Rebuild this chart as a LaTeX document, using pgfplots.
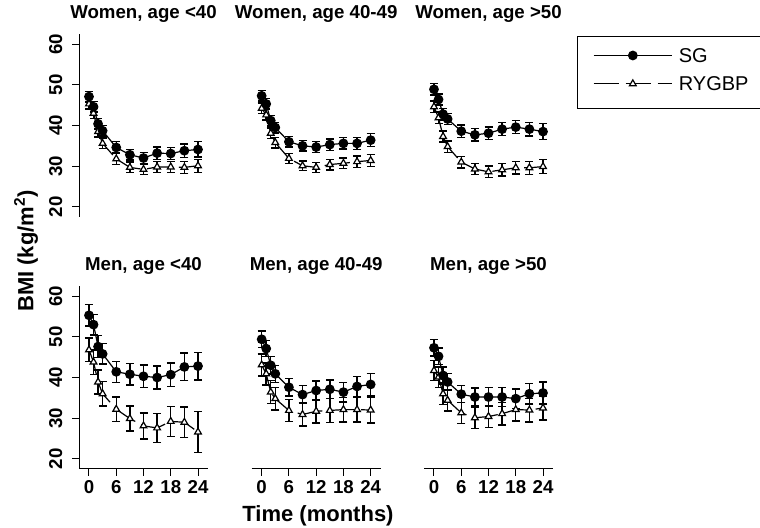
\documentclass[border=0pt]{standalone}
\usepackage{fontspec}
\setmainfont{Liberation Sans}
\usepackage{pgfplots}
\usepackage{pgfplotstable}
\pgfplotsset{compat=1.18}

\newcommand\titlefont{\bfseries\fontsize{14}{16}\selectfont}
\newcommand\tickfont{\bfseries\fontsize{14}{16}\selectfont}
\newcommand\labfont{\bfseries\fontsize{16.5}{19}\selectfont}
\newcommand\legfont{\fontsize{15}{17}\selectfont}

% t = months, sg/ry = mean BMI, sge/rye = error bar half width
\pgfplotstableread{
t  sg   sge  ry   rye
0  47.1 1.3  45.3 1.3
1  44.6 1.3  43.0 1.3
2  40.4 1.3  38.5 1.3
3  38.7 1.3  35.6 1.3
6  34.6 1.4  31.8 1.4
9  32.8 1.3  29.7 1.3
12 32.0 1.4  29.2 1.3
15 33.2 1.5  29.8 1.4
18 33.1 1.5  29.8 1.4
21 33.8 1.7  29.7 1.5
24 34.1 1.9  30.1 1.6
}\womenA
\pgfplotstableread{
t  sg   sge  ry   rye
0  47.3 1.3  44.2 1.3
1  45.3 1.3  42.6 1.3
2  41.2 1.3  38.1 1.3
3  39.5 1.3  35.8 1.3
6  36.0 1.3  31.9 1.2
9  35.0 1.3  30.1 1.2
12 34.7 1.3  29.7 1.2
15 35.3 1.4  30.4 1.3
18 35.6 1.4  30.7 1.3
21 35.6 1.5  31.1 1.4
24 36.4 1.6  31.4 1.5
}\womenB
\pgfplotstableread{
t  sg   sge  ry   rye
0  48.9 1.4  44.6 1.4
1  46.4 1.4  41.9 1.4
2  42.8 1.4  37.3 1.4
3  41.6 1.4  34.8 1.4
6  38.6 1.5  31.0 1.4
9  37.7 1.5  29.3 1.4
12 38.1 1.5  28.6 1.4
15 39.1 1.6  29.1 1.5
18 39.6 1.6  29.6 1.5
21 39.1 1.7  29.6 1.6
24 38.5 2.0  29.9 1.7
}\womenC
\pgfplotstableread{
t  sg   sge  ry   rye
0  55.3 2.6  46.8 2.9
1  53.0 2.5  43.8 3.0
2  47.6 2.7  38.9 3.0
3  45.8 2.5  36.0 3.0
6  41.4 2.6  32.2 3.0
9  40.8 2.7  29.9 3.1
12 40.3 2.8  28.1 3.2
15 40.0 2.8  27.6 3.6
18 40.7 2.9  29.2 3.7
21 42.6 3.4  29.0 3.8
24 42.8 3.4  26.6 5.0
}\menA
\pgfplotstableread{
t  sg   sge  ry   rye
0  49.4 2.0  43.1 2.7
1  47.1 2.0  40.9 2.7
2  43.0 2.1  36.4 2.8
3  40.9 2.1  34.8 2.8
6  37.6 2.1  31.9 2.7
9  35.8 2.2  30.9 2.8
12 36.8 2.3  31.7 2.9
15 37.1 2.3  31.9 3.0
18 36.4 2.4  32.1 3.0
21 37.8 2.5  32.1 3.1
24 38.3 2.7  32.0 3.2
}\menB
\pgfplotstableread{
t  sg   sge  ry   rye
0  47.3 2.0  41.7 2.5
1  45.2 2.0  40.1 2.5
2  40.5 2.1  36.0 2.6
3  38.9 2.1  34.4 2.6
6  35.9 2.1  31.3 2.6
9  35.2 2.2  30.1 2.7
12 35.2 2.3  30.4 2.7
15 35.2 2.3  31.1 2.8
18 34.8 2.4  32.1 2.8
21 36.0 2.5  32.0 2.9
24 36.2 2.7  32.5 2.9
}\menC

\pgfplotsset{
  panel/.style={
    scale only axis, width=96.75pt, height=137.25pt,
    xmin=-2.2, xmax=26.2, ymin=17.5, ymax=62.5,
    xtick={0,6,12,18,24}, ytick={20,30,40,50,60},
    tick align=outside, major tick length=5pt,
    axis line style={-, line width=0.75pt},
    x axis line style={-}, y axis line style={-},
    tick style={line width=0.75pt, black},
    ticklabel style={font=\tickfont},
    yticklabel style={rotate=90, anchor=south},
    yticklabel shift=4pt,
    /pgf/number format/assume math mode=true,
    clip=false,
    title style={font=\titlefont, at={(0.5,1)}, anchor=base, yshift=5.8pt},
  },
  legimg/.style={
    legend image code/.code={
      \path[draw=none, fill=none] (0pt,-7.15pt) rectangle (76pt,14.05pt);
      \draw[mark repeat=2, mark phase=2] plot coordinates {(12pt,5.35pt) (41.5pt,5.35pt) (71pt,5.35pt)};
    },
  },
  sg/.style={
    black, line width=0.9pt, mark=*, mark size=3.2pt, legimg,
    error bars/.cd, y dir=both, y explicit,
    error bar style={line width=1.1pt, solid},
    error mark options={rotate=90, mark size=3pt, line width=1.1pt},
  },
  ry/.style={
    black, line width=0.9pt, dash pattern=on 19pt off 5pt,
    mark=triangle*, mark size=2.9pt, mark options={solid, fill=white}, legimg,
    error bars/.cd, y dir=both, y explicit,
    error bar style={line width=1.1pt, solid},
    error mark options={rotate=90, mark size=3pt, line width=1.1pt, solid},
  },
}

\begin{document}
\begin{tikzpicture}
\path[use as bounding box] (0pt,0pt) rectangle (570pt,396pt);

% top row: women
\begin{axis}[axis x line=none, axis y line=left, panel,
  at={(59.25pt,233.25pt)}, anchor=south west, title={Women, age <40}]
\addplot[ry] table[x=t, y=ry, y error=rye]{\womenA};
\addplot[sg] table[x=t, y=sg, y error=sge]{\womenA};
\end{axis}
\begin{axis}[axis x line=none, axis y line=none, panel,
  at={(188.75pt,233.25pt)}, anchor=south west, title={Women, age 40-49}]
\addplot[ry] table[x=t, y=ry, y error=rye]{\womenB};
\addplot[sg] table[x=t, y=sg, y error=sge]{\womenB};
\end{axis}
\begin{axis}[axis x line=none, axis y line=none, panel,
  at={(318pt,233.25pt)}, anchor=south west, title={Women, age >50},
  reverse legend,
  legend style={at={(axis description cs:1.186,0.991)}, anchor=north west,
    draw=black, line width=0.75pt, inner xsep=0pt, inner ysep=5.8pt,
    column sep=0pt, row sep=0pt,
    nodes={inner sep=0pt, anchor=base, text width=61pt, text height=10.7pt,
      text depth=0pt, align=left, font=\legfont}}]
\addplot[ry] table[x=t, y=ry, y error=rye]{\womenC};
\addlegendentry{RYGBP}
\addplot[sg] table[x=t, y=sg, y error=sge]{\womenC};
\addlegendentry{SG}
\end{axis}

% bottom row: men
\begin{axis}[axis x line=bottom, axis y line=left, panel,
  at={(59.25pt,44.25pt)}, anchor=south west, title={Men, age <40}]
\addplot[ry] table[x=t, y=ry, y error=rye]{\menA};
\addplot[sg] table[x=t, y=sg, y error=sge]{\menA};
\end{axis}
\begin{axis}[axis x line=bottom, axis y line=none, panel,
  at={(188.75pt,44.25pt)}, anchor=south west, title={Men, age 40-49}]
\addplot[ry] table[x=t, y=ry, y error=rye]{\menB};
\addplot[sg] table[x=t, y=sg, y error=sge]{\menB};
\end{axis}
\begin{axis}[axis x line=bottom, axis y line=none, panel,
  at={(318pt,44.25pt)}, anchor=south west, title={Men, age >50}]
\addplot[ry] table[x=t, y=ry, y error=rye]{\menC};
\addplot[sg] table[x=t, y=sg, y error=sge]{\menC};
\end{axis}

\node[font=\labfont, rotate=90, anchor=base] at (25pt,207.75pt) {BMI (kg/m\textsuperscript{2})};
\node[font=\labfont, anchor=base] at (238.5pt,4.5pt) {Time (months)};
\end{tikzpicture}
\end{document}
